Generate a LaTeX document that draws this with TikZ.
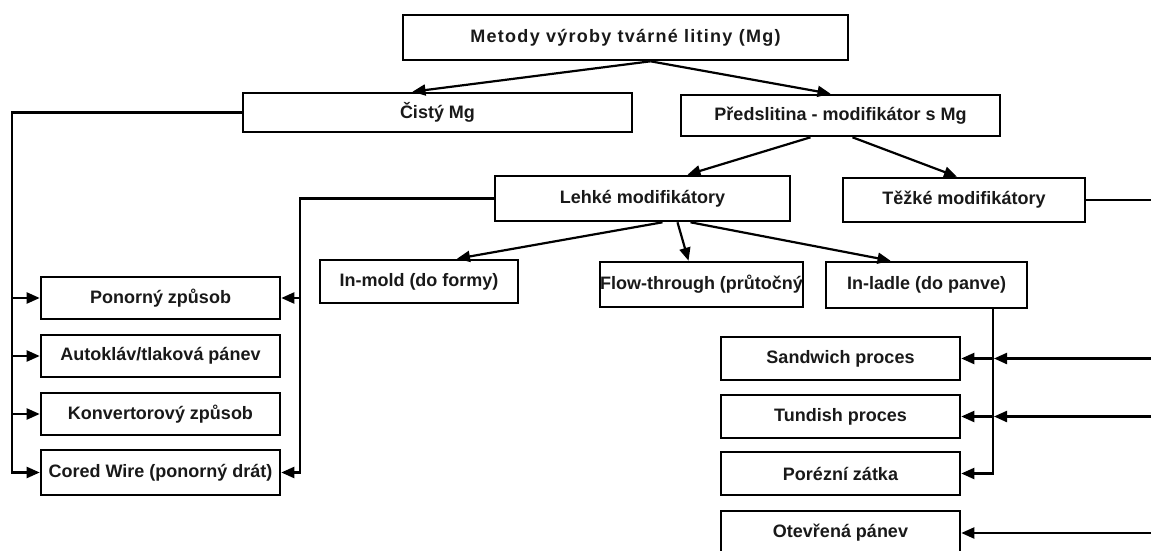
\documentclass[tikz,border=0pt]{standalone}
\usepackage{fontspec}
\setmainfont{Liberation Sans}
\newfontfamily\spacedfont[LetterSpace=7]{Liberation Sans}
\usetikzlibrary{arrows.meta}
\tikzset{
  box/.style={draw=black, line width=2.6pt, inner sep=0pt, minimum height=43pt,
    font=\bfseries\fontsize{18}{22}\selectfont, text=black!90},
  conn/.style={line width=2.2pt, draw=black},
  arr/.style={conn, -{Triangle[length=13pt,width=11pt]}},
}
\begin{document}
\begin{tikzpicture}[x=1pt,y=-1pt]
\useasboundingbox (0,0) rectangle (1151,551);
\fill[white] (0,0) rectangle (1151,551);
\clip (0,0) rectangle (1151,551);

% nodes
\node[box, minimum width=445pt, minimum height=45pt, font=\spacedfont\bfseries\fontsize{18}{22}\selectfont] (top) at (625.5,37.5) {Metody výroby tvárné litiny (Mg)};
\node[box, minimum width=389pt, minimum height=39pt] (cisty) at (437.5,112.5) {Čistý Mg};
\node[box, minimum width=319pt, minimum height=41pt] (pred) at (840.5,115.5) {Předslitina - modifikátor s Mg};
\node[box, minimum width=295pt, minimum height=45pt] (lehke) at (642.5,198.5) {Lehké modifikátory};
\node[box, minimum width=242pt, minimum height=44pt] (tezke) at (964,200) {Těžké modifikátory};

\node[box, minimum width=198pt] (inmold) at (419,281.5) {In-mold (do formy)};
\node[box, minimum width=201pt, minimum height=45pt] (flow) at (701.5,284.5) {Flow-through (průtočný};
\node[box, minimum width=201pt, minimum height=46pt] (inladle) at (926.5,285) {In-ladle (do panve)};

\node[box, minimum width=239pt, minimum height=42pt] (ponorny) at (160.5,298) {Ponorný způsob};
\node[box, minimum width=239pt, minimum height=42pt] (autoklav) at (160.5,356) {Autokláv/tlaková pánev};
\node[box, minimum width=239pt, minimum height=42pt] (konvertor) at (160.5,414) {Konvertorový způsob};
\node[box, minimum width=239pt, minimum height=45pt] (cored) at (160.5,472.5) {Cored Wire (ponorný drát)};

\node[box, minimum width=239pt] (sandwich) at (840.5,358.5) {Sandwich proces};
\node[box, minimum width=239pt] (tundish) at (840.5,416.5) {Tundish proces};
\node[box, minimum width=239pt] (porezni) at (840.5,473.5) {Porézní zátka};
\node[box, minimum width=239pt, minimum height=44pt] (otevrena) at (840.5,533) {Otevřená pánev};

% helper coordinates
\coordinate (lx) at (12,0);
\coordinate (mx) at (300,0);
\coordinate (rx) at (993,0);
\coordinate (edge) at (1151,0);

% tree arrows
\draw[arr] ([xshift=25]top.south) -- ([xshift=-25]cisty.north);
\draw[arr] ([xshift=25]top.south) -- ([xshift=-10]pred.north);
\draw[arr] ([xshift=-30]pred.south) -- ([xshift=45]lehke.north);
\draw[arr] ([xshift=12]pred.south) -- ([xshift=-7]tezke.north);
\draw[arr] ([xshift=20]lehke.south) -- ([xshift=38]inmold.north);
\draw[arr] ([xshift=35]lehke.south) -- ([xshift=-13]flow.north);
\draw[arr] ([xshift=48]lehke.south) -- ([xshift=-36]inladle.north);

% left bus from Cisty Mg
\draw[arr] (cisty.west) -| (lx |- cored.west) -- (cored.west);
\draw[arr] (lx |- ponorny.west) -- (ponorny.west);
\draw[arr] (lx |- autoklav.west) -- (autoklav.west);
\draw[arr] (lx |- konvertor.west) -- (konvertor.west);

% middle bus from Lehke
\draw[arr] (lehke.west) -| (mx |- cored.east) -- (cored.east);
\draw[arr] (mx |- ponorny.east) -- (ponorny.east);

% right bus from In-ladle
\draw[arr] (rx |- inladle.south) |- (porezni.east);
\draw[arr] (rx |- sandwich.east) -- (sandwich.east);
\draw[arr] (rx |- tundish.east) -- (tundish.east);

% lines from the right edge
\draw[conn] (tezke.east) -- (edge |- tezke.east);
\draw[arr] (edge |- sandwich.east) -- ([xshift=1]rx |- sandwich.east);
\draw[arr] (edge |- tundish.east) -- ([xshift=1]rx |- tundish.east);
\draw[arr] (edge |- otevrena.east) -- (otevrena.east);
\end{tikzpicture}
\end{document}
